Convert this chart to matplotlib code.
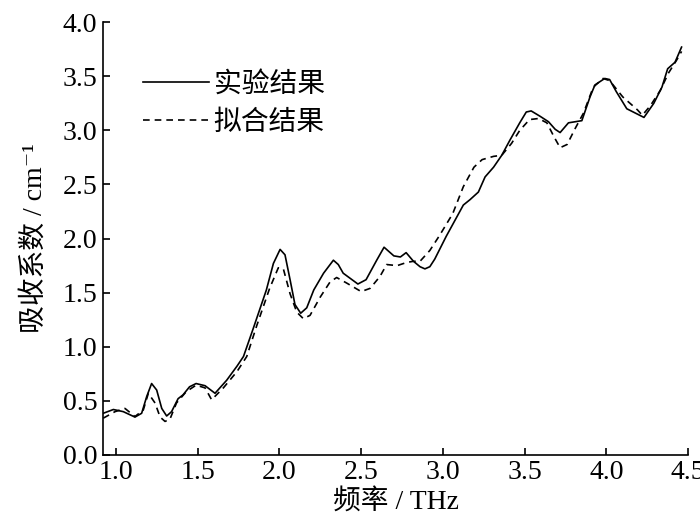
import matplotlib
matplotlib.use('Agg')
import matplotlib.pyplot as plt

plt.rcParams['font.family'] = ['Liberation Serif', 'Noto Sans CJK SC', 'DejaVu Serif']

# 实验结果 (solid line)
freq_exp = [0.922, 0.984, 1.045, 1.116, 1.157, 1.188, 1.218, 1.249, 1.28, 1.31, 1.34, 1.38,
            1.41, 1.45, 1.49, 1.545, 1.606, 1.677, 1.74, 1.78, 1.84, 1.92, 1.963, 2.004,
            2.034, 2.065, 2.095, 2.13, 2.167, 2.21, 2.27, 2.33, 2.36, 2.39, 2.48, 2.53,
            2.595, 2.64, 2.70, 2.74, 2.775, 2.82, 2.86, 2.89, 2.92, 2.95, 3.02, 3.125,
            3.166, 3.217, 3.258, 3.31, 3.36, 3.41, 3.47, 3.51, 3.54, 3.595, 3.646, 3.687,
            3.717, 3.768, 3.85, 3.90, 3.93, 3.99, 4.02, 4.06, 4.125, 4.23, 4.29, 4.34,
            4.375, 4.42, 4.46]
abs_exp = [0.385, 0.42, 0.40, 0.35, 0.385, 0.54, 0.66, 0.60, 0.43, 0.36, 0.40, 0.52,
           0.555, 0.63, 0.66, 0.64, 0.57, 0.69, 0.82, 0.91, 1.17, 1.525, 1.77, 1.90,
           1.85, 1.62, 1.39, 1.31, 1.36, 1.525, 1.68, 1.80, 1.76, 1.68, 1.58, 1.62,
           1.80, 1.92, 1.84, 1.83, 1.87, 1.79, 1.74, 1.72, 1.74, 1.81, 2.02, 2.31,
           2.36, 2.43, 2.57, 2.66, 2.77, 2.91, 3.07, 3.17, 3.18, 3.13, 3.08, 3.01,
           2.98, 3.07, 3.09, 3.31, 3.42, 3.48, 3.47, 3.36, 3.20, 3.12, 3.25, 3.40,
           3.57, 3.63, 3.77]

# 拟合结果 (dashed line)
freq_fit = [0.922, 0.994, 1.055, 1.116, 1.167, 1.198, 1.239, 1.27, 1.30, 1.33, 1.37, 1.43,
            1.49, 1.545, 1.585, 1.657, 1.74, 1.80, 1.86, 1.94, 1.993, 2.024, 2.065, 2.106,
            2.146, 2.187, 2.25, 2.31, 2.35, 2.41, 2.50, 2.555, 2.615, 2.656, 2.72, 2.78,
            2.82, 2.86, 2.92, 2.98, 3.06, 3.125, 3.19, 3.24, 3.31, 3.36, 3.42, 3.47,
            3.53, 3.585, 3.636, 3.68, 3.717, 3.76, 3.81, 3.86, 3.92, 3.98, 4.02, 4.10,
            4.19, 4.22, 4.27, 4.33, 4.38, 4.43, 4.46]
abs_fit = [0.34, 0.40, 0.43, 0.355, 0.415, 0.57, 0.48, 0.35, 0.31, 0.33, 0.48, 0.585,
           0.645, 0.62, 0.51, 0.62, 0.77, 0.91, 1.19, 1.54, 1.73, 1.72, 1.49, 1.32,
           1.26, 1.29, 1.46, 1.60, 1.64, 1.59, 1.51, 1.54, 1.65, 1.76, 1.75, 1.78,
           1.79, 1.79, 1.89, 2.03, 2.23, 2.48, 2.66, 2.73, 2.76, 2.77, 2.88, 3.00,
           3.10, 3.11, 3.07, 2.94, 2.84, 2.87, 3.02, 3.16, 3.40, 3.48, 3.46, 3.31,
           3.19, 3.14, 3.23, 3.37, 3.53, 3.65, 3.73]

x_ticks = [1.0, 1.5, 2.0, 2.5, 3.0, 3.5, 4.0, 4.5]
y_ticks = [0.0, 0.5, 1.0, 1.5, 2.0, 2.5, 3.0, 3.5, 4.0]

fig = plt.figure(figsize=(7, 5.29), dpi=100)
ax = fig.add_axes([0.147, 0.140, 0.836, 0.818])

ax.plot(freq_exp, abs_exp, color='black', lw=1.2, ls='-', label='实验结果')
ax.plot(freq_fit, abs_fit, color='black', lw=1.2, ls=(0, (4, 3)), label='拟合结果')

ax.set_xlim(0.92, 4.5)
ax.set_ylim(0, 4.0)
ax.set_xticks(x_ticks)
ax.set_yticks(y_ticks)
ax.set_xticklabels([f'{v:.1f}' for v in x_ticks])
ax.set_yticklabels([f'{v:.1f}' for v in y_ticks])
ax.spines['top'].set_visible(False)
ax.spines['right'].set_visible(False)
for s in ['left', 'bottom']:
    ax.spines[s].set_linewidth(1.2)
ax.tick_params(direction='in', length=5, width=1.2, labelsize=20, pad=4)

ax.set_xlabel('频率 / THz', fontsize=20, labelpad=2)
ax.set_ylabel('吸收系数 / cm⁻¹', fontsize=20, labelpad=11)

ax.legend(loc='upper left', bbox_to_anchor=(0.049, 0.912), frameon=False, fontsize=20,
          handlelength=2.4, handletextpad=0.15, labelspacing=0.46, borderaxespad=0)

fig.savefig('out.png', dpi=100)
